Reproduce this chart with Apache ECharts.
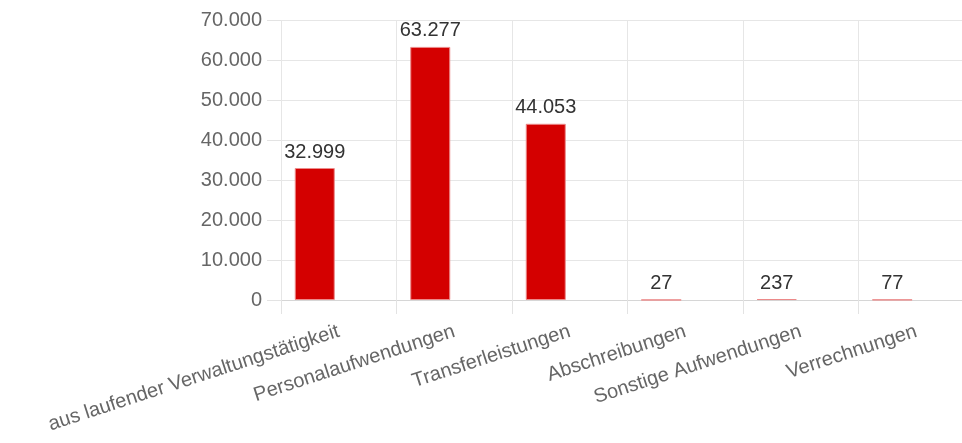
<!DOCTYPE html>
<html>
<head>
<meta charset="utf-8">
<script src="https://cdn.jsdelivr.net/npm/echarts@6/dist/echarts.min.js"></script>
<style>html,body{margin:0;padding:0;background:#fff;}#c{width:962px;height:443px;}</style>
</head>
<body>
<div id="c"></div>
<script>
var categories = ["aus laufender Verwaltungstätigkeit", "Personalaufwendungen", "Transferleistungen", "Abschreibungen", "Sonstige Aufwendungen", "Verrechnungen"];
var values = [32999, 63277, 44053, 27, 237, 77];
var yTicks = { min: 0, max: 70000, interval: 10000 };

function de(n) {
  return String(Math.round(n)).replace(/\B(?=(\d{3})+(?!\d))/g, '.');
}

var chart = echarts.init(document.getElementById('c'));
chart.setOption({
  animation: false,
  textStyle: { fontFamily: 'Arial, "Liberation Sans", sans-serif' },
  grid: { left: 281, width: 693, top: 20, height: 280, containLabel: false, outerBoundsMode: 'none' },
  xAxis: {
    type: 'category',
    data: categories,
    axisLine: { show: true, lineStyle: { color: '#d6d6d6' } },
    axisTick: { show: true, length: 14, lineStyle: { color: '#e3e3e3' } },
    splitLine: { show: true, lineStyle: { color: '#e6e6e6' } },
    axisLabel: { rotate: 18, interval: 0, color: '#666', fontSize: 20, margin: 31 }
  },
  yAxis: {
    type: 'value',
    min: yTicks.min, max: yTicks.max, interval: yTicks.interval,
    axisLine: { show: false },
    axisTick: { show: true, length: 14, lineStyle: { color: '#e3e3e3' } },
    splitLine: { show: true, lineStyle: { color: '#e6e6e6' } },
    axisLabel: { color: '#666', fontSize: 20, margin: 19, formatter: de }
  },
  series: [
    {
      type: 'bar',
      data: values,
      barWidth: 40,
      barGap: '20%',
      itemStyle: { color: '#d40000', borderColor: '#ec8a8a', borderWidth: 1 },
      label: { show: true, position: 'top', distance: 6, color: '#333', fontSize: 20, formatter: function (p) { return de(p.value); } }
    },
    {
      type: 'bar',
      data: [],
      barWidth: 40
    }
  ]
});
</script>
</body>
</html>
